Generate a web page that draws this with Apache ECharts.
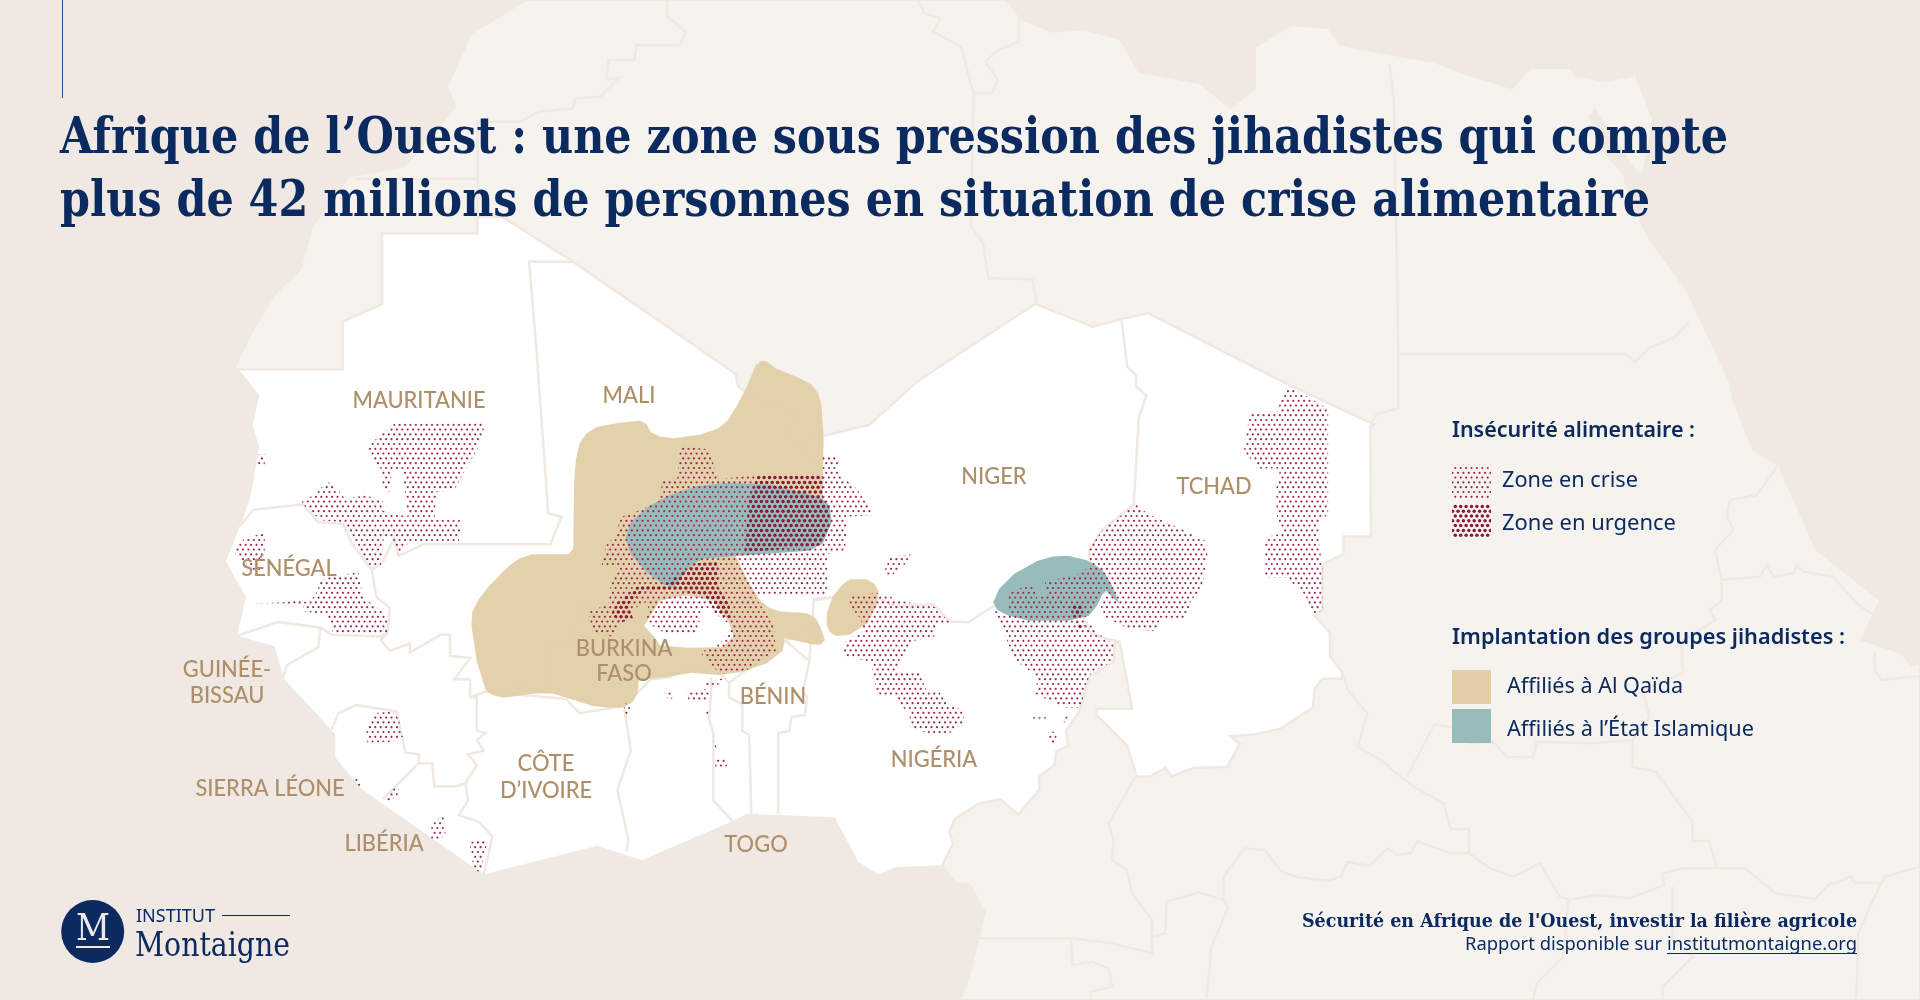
<!DOCTYPE html>
<html lang="fr">
<head>
<meta charset="utf-8">
<title>Afrique de l'Ouest</title>
<script src="https://cdn.jsdelivr.net/npm/echarts@6/dist/echarts.min.js"></script>
<style>
html, body { margin: 0; padding: 0; background: #f0e9e3; }
#chart { width: 1920px; height: 1000px; }
</style>
</head>
<body>
<div id="chart"></div>
<script>
const cropA = { x: 200, y: 340, kx: 2.24, ky: 2.8 }
const cropB = { x: 800, y: 300, kx: 2.613, ky: 2.613 }
const cropC = { x: 1240, y: 0, kx: 2.306, ky: 1.568 }
const cropD = { x: 880, y: 640, kx: 1.5077, ky: 3 }
const cropE = { x: 1540, y: 40, kx: 3, ky: 3 }
const cropL = { x: 1420, y: 400, kx: 3, ky: 3 }
const cropZ = { x: 0, y: 0, kx: 0.8167, ky: 3 }
const mapped = (crop, pts) => pts.map(p => [crop.x + p[0] / crop.kx, crop.y + p[1] / crop.ky])

const frame = [[0, 0], [1920, 0], [1920, 1000], [0, 1000]]

const coastNorthWest = [[430, 0], [385, 100], [365, 260], [372, 320], [330, 500], [285, 530], [255, 680], [245, 810], [225, 880], [205, 1000], [192, 1100], [192, 1108]]
const coastWest = [[85, 85], [130, 155], [115, 240], [130, 300], [110, 440], [90, 510], [55, 620], [100, 720], [80, 830], [165, 860], [185, 950], [260, 1050], [300, 1105], [300, 1170], [360, 1260], [555, 1430], [635, 1500], [890, 1420], [990, 1460], [1195, 1350], [1225, 1330], [1420, 1340]]
const coastNigeria = [[150, 1470], [205, 1505], [250, 1485], [370, 1480]]
const coastCameroon = [[95, 680], [115, 730], [135, 732], [158, 815], [148, 900], [137, 990], [122, 1080]]
const coastNorth = [[822, 0], [835, 60], [860, 95], [885, 88], [915, 118], [930, 215], [980, 250], [1005, 325], [1025, 265], [1025, 140], [1055, 75], [1085, 85], [1095, 135], [1130, 160], [1170, 185], [1200, 225], [1235, 265], [1250, 203], [1282, 205]]
const coastSinai = [[110, 108], [190, 122], [265, 112], [285, 100], [340, 240], [310, 400], [290, 400], [165, 208], [150, 230], [200, 345], [250, 400], [260, 440], [300, 540], [330, 600]]
const coastRedSea = [[1030, 455], [1130, 600]]
const coastHorn = [[940, 0], [1000, 150], [1075, 195], [1190, 450], [1380, 600]]
const coastEnd = [[1480, 0], [1540, 40], [1555, 75], [1568, 72]]

const sahelNorth = [[192, 1108], [280, 1108], [280, 965], [312, 912], [312, 700], [390, 700], [390, 650], [410, 650], [468, 785]]
const sahelMaliNorth = [[1090, 0], [1200, 95], [1205, 130], [1230, 155], [1330, 200], [1320, 265], [1335, 287], [1500, 237]]
const sahelEast = [[310, 210], [615, 10], [765, 70], [840, 50], [910, 35], [1285, 225], [1500, 325], [1490, 330], [1492, 618], [1420, 618], [1420, 665], [1365, 690], [1365, 810], [1345, 825], [1385, 870], [1385, 930], [1418, 975], [1415, 990], [1365, 990], [1345, 1015], [1340, 1065], [1255, 1120], [1190, 1135], [1125, 1140], [1150, 1160], [1115, 1220], [1030, 1222], [970, 1245], [955, 1222], [915, 1245], [880, 1245], [855, 1165], [775, 1085], [775, 1068], [868, 1068], [835, 893], [822, 895], [820, 945], [755, 985], [730, 1075], [695, 1125], [700, 1165], [670, 1180], [665, 1215], [625, 1245], [625, 1280], [570, 1345], [525, 1305], [470, 1315], [405, 1355], [390, 1390], [400, 1420], [370, 1480], [250, 1485], [205, 1505], [150, 1470]]

const borderMaliNorth = [[468, 785], [432, 785], [437.5, 1020]]
const borderMauritaniaMali = [[752, 0], [780, 485], [810, 495], [785, 572], [500, 572], [445, 605], [435, 555], [410, 620], [385, 645], [395, 720], [425, 750], [420, 820], [405, 840], [425, 870], [470, 850], [470, 875], [540, 825], [560, 825], [560, 885], [605, 890], [570, 950], [605, 950], [605, 1000], [640, 985], [700, 975], [735, 975], [775, 980], [770, 900], [780, 860], [840, 855], [840, 800], [860, 730], [885, 770]]
const borderSenegalNorth = [[90, 520], [120, 475], [230, 460], [265, 510], [320, 515], [340, 570], [385, 645]]
const borderSenegalSouth = [[80, 830], [175, 790], [270, 805], [295, 825], [405, 830], [420, 820]]
const borderBissau = [[270, 805], [265, 860], [195, 910], [185, 950]]
const borderGuinea = [[295, 1090], [310, 1045], [350, 1022], [440, 1040], [460, 1155], [490, 1160], [490, 1185], [520, 1185], [525, 1250], [570, 1250], [600, 1240]]
const borderIvoryWest = [[605, 1000], [620, 1000], [620, 1095], [640, 1100], [620, 1120], [635, 1150], [600, 1160], [620, 1190], [595, 1240], [600, 1290], [580, 1330], [625, 1350], [655, 1390], [635, 1500]]
const borderLeone = [[490, 1185], [410, 1285]]
const borderBurkinaSouth = [[640, 985], [820, 1005], [850, 1045], [950, 1025], [1010, 950], [1050, 945], [1100, 915], [1140, 930], [1165, 935], [1185, 960], [1305, 850]]
const borderGhanaWest = [[950, 1025], [965, 1150], [935, 1260], [960, 1400], [955, 1430]]
const borderGhanaEast = [[1145, 945], [1145, 990], [1140, 1060], [1150, 1100], [1150, 1290], [1195, 1350]]
const borderBeninWest = [[1185, 960], [1185, 1000], [1215, 1020], [1215, 1095], [1230, 1105], [1235, 1325]]
const borderBeninEast = [[1310, 840], [1365, 900], [1350, 985], [1360, 1000], [1355, 1050], [1325, 1055], [1320, 1095], [1295, 1100], [1295, 1325]]
const borderNigerA = [[1365, 900], [1375, 725], [1520, 710]]
const borderNigerTan = [[1335, 287], [1395, 360]]
const borderNigerBurkina = [[1305, 850], [1375, 790]]
const borderNigerB = [[35, 785], [170, 765], [250, 800], [350, 795], [390, 840], [440, 842], [505, 800], [740, 830], [760, 870], [800, 885], [835, 893]]
const borderNigerChad = [[840, 50], [855, 175], [878, 195], [878, 225], [905, 250], [885, 310], [872, 535], [790, 600], [755, 655], [760, 690]]

const linesNorthZ = [
  [[545, 0], [545, 50], [560, 95], [555, 135], [520, 135], [518, 180], [497, 180], [495, 238], [505, 235], [490, 290], [470, 295], [468, 325], [440, 335], [425, 365], [390, 365], [390, 650]],
  [[290, 537], [390, 537]],
  [[750, 0], [755, 40], [768, 55], [762, 95], [785, 140], [795, 280], [793, 680], [803, 730], [807, 835], [843, 838], [847, 910]],
  [[795, 280], [810, 280], [815, 240], [805, 185], [815, 150], [832, 125], [832, 40], [822, 0]],
]
const linesNorthC = [
  [[345, 100], [355, 160], [365, 555], [365, 640], [315, 650], [300, 665]],
  [[365, 555], [890, 555], [910, 568], [945, 545], [1000, 530], [1035, 505]],
]
const linesHornL = [
  [[1075, 195], [1010, 285], [930, 300], [920, 350], [940, 390], [885, 450], [905, 540], [905, 600], [870, 630], [885, 660], [785, 725], [785, 800]],
  [[905, 540], [1020, 530], [1040, 495], [1060, 530], [1120, 520], [1130, 495], [1150, 515], [1240, 530], [1310, 610], [1380, 660]],
]
const linesSouthD = [
  [[385, 410], [345, 550], [352, 600], [350, 660], [372, 690], [380, 760], [410, 840], [410, 940], [350, 910], [290, 895], [150, 895]],
  [[410, 890], [430, 880], [432, 785], [480, 757], [518, 780], [518, 710], [550, 625], [580, 630], [605, 695], [630, 712], [675, 722], [695, 710], [705, 665], [738, 678], [765, 625], [780, 645], [800, 640], [810, 603], [860, 640], [888, 640], [888, 567], [860, 567], [850, 490], [800, 435], [755, 360], [720, 320], [735, 220], [707, 155], [697, 100]],
  [[795, 410], [835, 255], [880, 265], [890, 310], [925, 305], [945, 350], [985, 352], [990, 305], [1075, 310], [1135, 300], [1160, 230], [1150, 150], [1210, 100], [1210, 0]],
  [[1135, 300], [1135, 380], [1170, 395], [1225, 545], [1225, 603], [1250, 603], [1262, 685], [1210, 685], [1180, 700], [1182, 735], [1130, 775], [1080, 765], [1040, 780], [1025, 770], [995, 670], [955, 710], [920, 685], [888, 640]],
  [[1262, 685], [1305, 685], [1350, 760], [1410, 777], [1430, 735], [1465, 710], [1470, 730], [1510, 730], [1515, 710], [1568, 680]],
  [[1038, 780], [1030, 950], [990, 1030], [985, 1080]],
  [[1195, 740], [1195, 900], [1225, 950], [1180, 1040], [1180, 1080]],
  [[518, 780], [525, 800], [500, 920], [492, 1080]],
  [[288, 900], [290, 975], [320, 965], [345, 985], [350, 1040], [318, 1055], [318, 1080]],
  [[1510, 725], [1475, 880], [1472, 1080]],
  [[1500, 40], [1500, 90], [1510, 120], [1568, 108]],
]

const qaidaOuter = [[1245, 70], [1258, 58], [1270, 60], [1290, 80], [1340, 105], [1370, 125], [1385, 150], [1392, 180], [1397, 280], [1395, 400], [1395, 500], [1200, 605], [1225, 670], [1255, 730], [1275, 750], [1300, 760], [1360, 765], [1380, 780], [1390, 805], [1400, 840], [1390, 853], [1370, 852], [1310, 835], [1305, 870], [1270, 905], [1210, 930], [1160, 938], [1100, 932], [1040, 945], [983, 950], [980, 990], [970, 1012], [950, 1028], [920, 1030], [880, 1025], [830, 1005], [790, 990], [750, 990], [680, 1002], [655, 995], [640, 980], [620, 900], [608, 800], [610, 760], [625, 725], [650, 685], [690, 635], [715, 612], [745, 600], [825, 600], [836, 585], [838, 400], [842, 335], [850, 290], [865, 262], [890, 243], [940, 232], [985, 226], [1000, 235], [1010, 258], [1030, 270], [1060, 275], [1120, 265], [1160, 248], [1180, 228], [1200, 190], [1225, 130]]
const qaidaHole = [[1020, 835], [1030, 855], [1090, 862], [1170, 860], [1195, 830], [1185, 790], [1150, 730], [1090, 715], [1030, 730], [1010, 770], [995, 800]]
const qaidaNigeria = [[130, 730], [175, 730], [195, 742], [205, 760], [200, 800], [175, 845], [130, 875], [95, 878], [78, 868], [70, 850], [70, 820], [85, 775], [110, 745]]
const islamWest = [[1180, 400], [1280, 405], [1360, 430], [1395, 445], [1410, 465], [1415, 510], [1395, 570], [1365, 590], [1200, 605], [1130, 612], [1105, 625], [1085, 655], [1060, 690], [1040, 685], [1000, 650], [965, 600], [953, 555], [965, 510], [1000, 470], [1050, 435], [1110, 410]]
const islamEast = [[505, 790], [520, 755], [560, 715], [620, 682], [660, 670], [700, 668], [750, 680], [790, 705], [815, 745], [835, 795], [800, 760], [790, 770], [775, 800], [755, 825], [700, 838], [600, 838], [545, 825], [515, 810]]

const criseA = [
  [[375, 300], [400, 270], [435, 235], [640, 232], [620, 310], [600, 350], [570, 420], [530, 425], [525, 503], [585, 505], [580, 565], [470, 565], [443, 600], [428, 555], [412, 550], [405, 632], [380, 632], [345, 570], [320, 510], [270, 505], [225, 455], [260, 430], [285, 395], [310, 420], [325, 445], [370, 435], [410, 450], [410, 478], [465, 495], [455, 370], [430, 360], [425, 425], [410, 420], [405, 360], [390, 340]],
  [[130, 320], [145, 320], [145, 352], [130, 350]],
  [[100, 555], [145, 540], [145, 590], [135, 610], [135, 660], [125, 660], [100, 620], [85, 610], [75, 590]],
  [[265, 680], [285, 665], [355, 650], [365, 720], [420, 770], [420, 825], [300, 825], [285, 770], [235, 760], [230, 745], [120, 745], [120, 738], [180, 735], [220, 730], [245, 735], [265, 700]],
  [[390, 1045], [430, 1040], [445, 1060], [455, 1110], [430, 1125], [375, 1128], [372, 1085]],
  [[345, 1220], [360, 1240], [360, 1255], [350, 1250]],
  [[420, 1270], [445, 1245], [445, 1270], [425, 1295], [412, 1295]],
  [[545, 1325], [550, 1380], [535, 1405], [518, 1395], [518, 1360]],
  [[605, 1405], [645, 1400], [635, 1450], [630, 1490], [615, 1485], [605, 1430]],
  [[950, 1015], [965, 1025], [960, 1055], [950, 1055]],
  [[1035, 970], [1060, 995], [1055, 1010], [1045, 1000]],
  [[1090, 990], [1140, 975], [1140, 1010], [1095, 1010]],
  [[1125, 960], [1180, 945], [1150, 975]],
  [[1130, 1035], [1140, 1035], [1135, 1065]],
  [[1150, 1120], [1160, 1145], [1155, 1145]],
  [[1152, 1170], [1180, 1170], [1180, 1195], [1155, 1200]],
  [[1075, 298], [1135, 305], [1150, 345], [1160, 390], [1250, 378], [1395, 378], [1395, 325], [1428, 325], [1430, 375], [1470, 415], [1510, 490], [1450, 495], [1445, 590], [1405, 600], [1405, 715], [1240, 712], [1285, 800], [1290, 870], [1225, 925], [1165, 935], [1120, 875], [1165, 850], [1190, 800], [1130, 745], [1110, 820], [1040, 820], [1000, 790], [1005, 730], [960, 760], [945, 790], [920, 830], [880, 820], [870, 760], [915, 740], [920, 690], [935, 640], [900, 630], [910, 575], [935, 540], [940, 495], [960, 490], [1030, 450], [1035, 395], [1070, 385]],
]
const criseB = [
  [[230, 670], [290, 665], [275, 690], [240, 720], [220, 715]],
  [[130, 775], [200, 765], [280, 790], [350, 800], [395, 845], [355, 850], [350, 885], [300, 890], [260, 940], [255, 975], [310, 970], [330, 1020], [365, 1025], [380, 1050], [430, 1075], [425, 1105], [380, 1140], [350, 1135], [290, 1120], [285, 1075], [260, 1060], [255, 1035], [200, 1030], [195, 990], [185, 945], [115, 930], [115, 895], [165, 865], [160, 835], [130, 800]],
  [[500, 805], [545, 830], [740, 830], [790, 880], [820, 900], [815, 945], [760, 975], [745, 1010], [735, 1065], [690, 1065], [660, 1050], [615, 1030], [620, 990], [595, 965], [560, 940], [530, 860]],
  [[605, 1090], [650, 1090], [650, 1096], [605, 1096]],
  [[685, 1080], [700, 1090], [690, 1105]],
  [[650, 1125], [670, 1130], [670, 1160], [650, 1160]],
  [[880, 535], [910, 560], [1000, 600], [1060, 630], [1065, 670], [1050, 750], [1020, 790], [1010, 830], [940, 835], [930, 865], [860, 860], [790, 825], [785, 790], [800, 760], [755, 690], [755, 650], [795, 595], [870, 540]],
  [[640, 735], [720, 720], [770, 690], [790, 760], [770, 800], [745, 830], [545, 830], [545, 760], [610, 745], [620, 780], [645, 770]],
  [[1280, 228], [1330, 255], [1380, 285], [1380, 560], [1355, 580], [1355, 620], [1365, 700], [1365, 810], [1340, 825], [1320, 770], [1270, 725], [1215, 725], [1215, 620], [1260, 610], [1245, 560], [1245, 490], [1255, 440], [1200, 440], [1160, 395], [1175, 295], [1250, 290], [1255, 255]],
]
const urgenceA = [
  [[1250, 378], [1395, 378], [1395, 440], [1410, 470], [1410, 520], [1390, 575], [1220, 595], [1230, 440]],
  [[1080, 650], [1110, 625], [1160, 620], [1160, 690], [1185, 740], [1190, 780], [1160, 770], [1130, 715], [1060, 700], [990, 705], [960, 740], [970, 780], [945, 790], [920, 770], [935, 735], [980, 690], [1040, 685]],
]
const urgenceB = [
  [[705, 795], [735, 795], [740, 825], [715, 830]],
  [[720, 840], [745, 850], [730, 860]],
]

// Labels: name, x, y in the picture's 1920 x 1000 frame
const countryLabels = [
  ['MAURITANIE', 419, 401], ['MALI', 629, 396], ['NIGER', 994, 477], ['TCHAD', 1214, 487],
  ['SÉNÉGAL', 289, 569], ['GUINÉE-', 227, 670], ['BISSAU', 227, 696], ['SIERRA LÉONE', 270, 789],
  ['LIBÉRIA', 384, 844], ['CÔTE', 546, 764], ['D’IVOIRE', 546, 791], ['BURKINA', 624, 649],
  ['FASO', 624, 674], ['BÉNIN', 773, 697], ['TOGO', 756, 845], ['NIGÉRIA', 934, 760],
]

const legendFood = ['Zone en crise', 'Zone en urgence']
const legendGroups = ['Affiliés à Al Qaïda', 'Affiliés à l’État Islamique']

const NAVY = '#0b2a60'
const TAN = '#e2cfa8'
const TEAL = '#98bcbc'
const SEA = '#f0e9e3'
const LAND = '#f6f3ef'
const LINE = '#efe9e2'

const dotPattern = (radius, color) => {
  const tile = document.createElement('canvas')
  tile.width = 54
  tile.height = 48
  const ctx = tile.getContext('2d')
  ctx.fillStyle = color
  for (let row = 0; row < 10; row++) {
    for (let col = 0; col < 11; col++) {
      ctx.beginPath()
      ctx.arc((col - 0.5 + (row % 2) / 2) * 5.4 + 2.7, row * 4.8 + 2.4, radius, 0, Math.PI * 2)
      ctx.fill()
    }
  }
  return tile
}
const patternCrise = { image: dotPattern(1.1, '#a02a50'), repeat: 'repeat' }
const patternUrgence = { image: dotPattern(1.75, '#8a1a3c'), repeat: 'repeat' }

const polygon = (name, rings) => ({ type: 'Feature', properties: { name }, geometry: { type: 'Polygon', coordinates: rings } })
const multi = (name, polys) => ({ type: 'Feature', properties: { name }, geometry: { type: 'MultiPolygon', coordinates: polys.map(p => [p]) } })
const lines = (name, list) => ({ type: 'Feature', properties: { name }, geometry: { type: 'MultiLineString', coordinates: list } })

const landRing = [
  ...mapped(cropZ, coastNorthWest), ...mapped(cropA, coastWest), ...mapped(cropB, coastNigeria),
  ...mapped(cropD, coastCameroon), [1920, 1000], [1920, 664],
  ...mapped(cropD, coastEnd.slice().reverse()), ...mapped(cropL, coastHorn.slice().reverse()),
  ...mapped(cropC, coastRedSea.slice().reverse()), ...mapped(cropE, coastSinai.slice().reverse()),
  ...mapped(cropZ, coastNorth.slice().reverse()),
]
const sahelRing = [
  ...mapped(cropZ, sahelNorth), ...mapped(cropA, sahelMaliNorth), ...mapped(cropB, sahelEast),
  ...mapped(cropA, coastWest.slice().reverse()),
]
const borderList = [
  mapped(cropZ, borderMaliNorth),
  ...[borderMauritaniaMali, borderSenegalNorth, borderSenegalSouth, borderBissau, borderGuinea, borderIvoryWest, borderLeone, borderBurkinaSouth, borderGhanaWest, borderGhanaEast, borderBeninWest, borderBeninEast, borderNigerA, borderNigerTan, borderNigerBurkina].map(l => mapped(cropA, l)),
  ...[borderNigerB, borderNigerChad].map(l => mapped(cropB, l)),
]
const backLines = [
  ...linesNorthZ.map(l => mapped(cropZ, l)), ...linesNorthC.map(l => mapped(cropC, l)),
  ...linesHornL.map(l => mapped(cropL, l)), ...linesSouthD.map(l => mapped(cropD, l)),
]

echarts.registerMap('sahel', {
  type: 'FeatureCollection',
  features: [
    polygon('cadre', [frame]),
    polygon('terres', [landRing]),
    lines('frontieres', backLines),
    polygon('sahel', [sahelRing]),
    lines('frontieresSahel', borderList),
    polygon('qaida', [mapped(cropA, qaidaOuter), mapped(cropA, qaidaHole)]),
    polygon('qaidaNigeria', [mapped(cropB, qaidaNigeria)]),
    multi('islam', [mapped(cropA, islamWest), mapped(cropB, islamEast)]),
    multi('crise', [...criseA.map(p => mapped(cropA, p)), ...criseB.map(p => mapped(cropB, p))]),
    multi('urgence', [...urgenceA.map(p => mapped(cropA, p)), ...urgenceB.map(p => mapped(cropB, p))]),
  ],
})

const measure = document.createElement('canvas').getContext('2d')
const textWidth = (text, font) => {
  measure.font = font
  return measure.measureText(text).width
}
// Text squeezed to a given width, because the picture's fonts are not installed
const fitted = (text, x, y, font, width, fill) => ({
  type: 'text',
  x,
  y,
  z: 10,
  scaleX: width / textWidth(text, font),
  silent: true,
  style: { text, x: 0, y: 0, font, fill, verticalAlign: 'middle' },
})
const box = (x, y, width, height, fill) => ({ type: 'rect', z: 10, shape: { x, y, width, height }, silent: true, style: { fill } })

const SANS = '"Noto Sans"'
const SERIF = '"DejaVu Serif"'
const LABEL_FONT = '500 23px Lato'
const labelScale = 133 / textWidth('MAURITANIE', LABEL_FONT)

const chart = echarts.init(document.getElementById('chart'), null, { renderer: 'canvas' })
chart.setOption({
  backgroundColor: SEA,
  animation: false,
  geo: {
    map: 'sahel',
    roam: false,
    silent: true,
    left: 0,
    top: 0,
    width: 1920,
    height: 1000,
    projection: { project: p => p, unproject: p => p },
    label: { show: false },
    emphasis: { disabled: true },
    itemStyle: { areaColor: 'transparent', borderWidth: 0 },
    regions: [
      { name: 'cadre', itemStyle: { areaColor: SEA, borderWidth: 0 } },
      { name: 'terres', itemStyle: { areaColor: LAND, borderColor: LINE, borderWidth: 2 } },
      { name: 'frontieres', itemStyle: { areaColor: 'none', borderColor: LINE, borderWidth: 2.5 } },
      { name: 'sahel', itemStyle: { areaColor: '#ffffff', borderColor: LINE, borderWidth: 2.5 } },
      { name: 'frontieresSahel', itemStyle: { areaColor: 'none', borderColor: LINE, borderWidth: 2.5 } },
      { name: 'qaida', itemStyle: { areaColor: TAN, opacity: 0.95, borderWidth: 0 } },
      { name: 'qaidaNigeria', itemStyle: { areaColor: TAN, opacity: 0.95, borderWidth: 0 } },
      { name: 'islam', itemStyle: { areaColor: TEAL, borderWidth: 0 } },
      { name: 'crise', itemStyle: { areaColor: patternCrise, borderWidth: 0 } },
      { name: 'urgence', itemStyle: { areaColor: patternUrgence, borderWidth: 0 } },
    ],
  },
  series: [{
    type: 'custom',
    coordinateSystem: 'geo',
    silent: true,
    z: 5,
    data: countryLabels.map(l => ({ name: l[0], value: [l[1], l[2]] })),
    renderItem: (params, api) => {
      const pos = api.coord([api.value(0), api.value(1)])
      const text = countryLabels[params.dataIndex][0]
      return {
        type: 'text',
        x: pos[0],
        y: pos[1],
        scaleX: labelScale,
        style: { text, font: LABEL_FONT, fill: '#ae8f69', align: 'center', verticalAlign: 'middle' },
      }
    },
  }],
  graphic: { elements: [
    box(62, 0, 1, 98, '#274a8c'),
    fitted('Afrique de l’Ouest : une zone sous pression des jihadistes qui compte', 60, 140, `bold 50px ${SERIF}`, 1668, NAVY),
    fitted('plus de 42 millions de personnes en situation de crise alimentaire', 60, 203, `bold 50px ${SERIF}`, 1590, NAVY),

    fitted('Insécurité alimentaire :', 1452, 431, `600 21px ${SANS}`, 243, NAVY),
    box(1452, 464, 39, 34, patternCrise),
    fitted(legendFood[0], 1502, 481, `22px ${SANS}`, 136, NAVY),
    box(1452, 504, 39, 34, patternUrgence),
    fitted(legendFood[1], 1502, 524, `22px ${SANS}`, 174, NAVY),
    fitted('Implantation des groupes jihadistes :', 1452, 638, `600 21px ${SANS}`, 393, NAVY),
    box(1452, 670, 39, 34, TAN),
    fitted(legendGroups[0], 1507, 687, `22px ${SANS}`, 176, NAVY),
    box(1452, 709, 39, 34, TEAL),
    fitted(legendGroups[1], 1507, 730, `22px ${SANS}`, 247, NAVY),

    { type: 'circle', z: 10, shape: { cx: 92.7, cy: 931.5, r: 31.5 }, silent: true, style: { fill: NAVY } },
    fitted('M', 76, 930, `38px ${SERIF}`, 34, '#f0e9e3'),
    box(76, 946, 34, 2, '#f0e9e3'),
    fitted('INSTITUT', 136, 917, `18px ${SANS}`, 79, NAVY),
    box(222, 915, 68, 1, NAVY),
    fitted('Montaigne', 135, 947, `33px ${SERIF}`, 155, NAVY),

    fitted('Sécurité en Afrique de l\'Ouest, investir la filière agricole', 1302, 922, `bold 19px ${SERIF}`, 555, NAVY),
    fitted('Rapport disponible sur ', 1465, 945, `18px ${SANS}`, 202, NAVY),
    fitted('institutmontaigne.org', 1667, 945, `18px ${SANS}`, 190, NAVY),
    box(1667, 953, 190, 1, NAVY),
  ] },
})
</script>
</body>
</html>
